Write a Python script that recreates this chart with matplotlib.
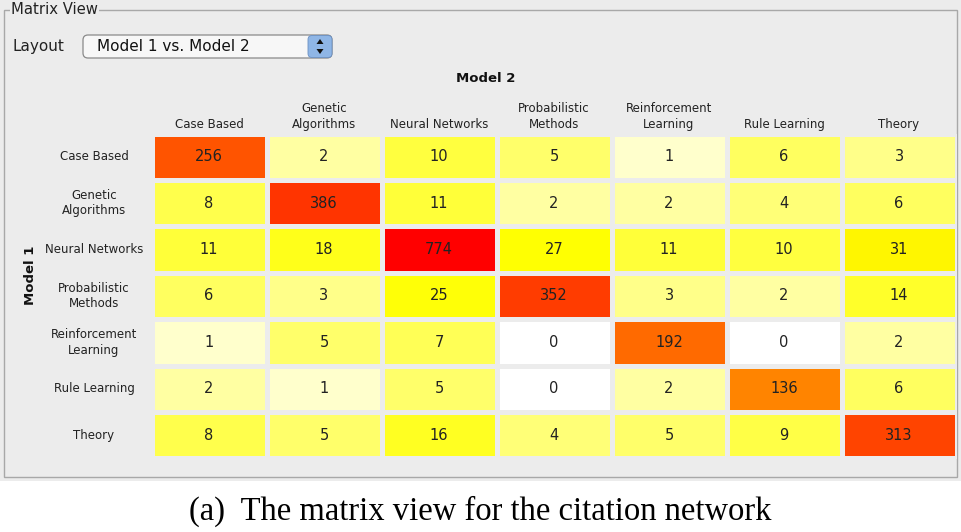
import numpy as np
import matplotlib
matplotlib.use("Agg")
import matplotlib.pyplot as plt
from matplotlib.colors import LinearSegmentedColormap, LogNorm
from matplotlib.patches import Rectangle, FancyBboxPatch, Polygon

# ---- data ----
categories = ["Case Based", "Genetic\nAlgorithms", "Neural Networks", "Probabilistic\nMethods",
              "Reinforcement\nLearning", "Rule Learning", "Theory"]
row_case_based = [256, 2, 10, 5, 1, 6, 3]
row_genetic = [8, 386, 11, 2, 2, 4, 6]
row_neural = [11, 18, 774, 27, 11, 10, 31]
row_probabilistic = [6, 3, 25, 352, 3, 2, 14]
row_reinforcement = [1, 5, 7, 0, 192, 0, 2]
row_rule = [2, 1, 5, 0, 2, 136, 6]
row_theory = [8, 5, 16, 4, 5, 9, 313]
x_title = "Model 2"
y_title = "Model 1"
layout_choice = "Model 1 vs. Model 2"
caption = "(a)  The matrix view for the citation network"

matrix = np.array([row_case_based, row_genetic, row_neural, row_probabilistic,
                   row_reinforcement, row_rule, row_theory], dtype=float)

W, H = 961, 532
fig = plt.figure(figsize=(W / 100, H / 100), dpi=100)
fig.patch.set_facecolor("white")

bg = "#ECECEC"
ov = fig.add_axes([0, 0, 1, 1])
ov.set_xlim(0, W)
ov.set_ylim(H, 0)
ov.axis("off")

# panel background
ov.add_patch(Rectangle((0, 0), W, 481, facecolor=bg, edgecolor="none", zorder=0))
# border
ov.add_patch(Rectangle((4, 10), 953, 467, facecolor="none", edgecolor="#A8A8A8", lw=1.0, zorder=1))
ov.text(11, 10, "Matrix View", fontsize=10.7, family="DejaVu Sans", color="#222222",
        va="center", ha="left", zorder=3,
        bbox=dict(facecolor=bg, edgecolor="none", pad=1))

# Layout combo
ov.text(13, 47, "Layout", fontsize=11, family="DejaVu Sans", color="#222222", va="center", ha="left")
ov.add_patch(FancyBboxPatch((83, 35), 249, 23, boxstyle="round,pad=0,rounding_size=5",
                            facecolor="#F7F7F7", edgecolor="#8A8A8A", lw=0.9, zorder=2))
ov.add_patch(FancyBboxPatch((308, 35.5), 24, 22, boxstyle="round,pad=0,rounding_size=4",
                            facecolor="#8FB6E6", edgecolor="#6A8FC2", lw=0.6, zorder=3))
ov.add_patch(Polygon([[316.5, 44], [323.5, 44], [320, 39]], closed=True, facecolor="#111111", zorder=4))
ov.add_patch(Polygon([[316.5, 49], [323.5, 49], [320, 54]], closed=True, facecolor="#111111", zorder=4))
ov.text(97, 46.5, layout_choice, fontsize=11, family="DejaVu Sans", color="#111111",
        va="center", ha="left", zorder=4)

# heatmap axes
left, right = 151.5, 956.5
top, bottom = 133.5, 458.5
ax = fig.add_axes([left / W, 1 - bottom / H, (right - left) / W, (bottom - top) / H])
cmap = LinearSegmentedColormap.from_list("ylor", ["#FFFFCC", "#FFFF00", "#FF0000"])
cmap.set_bad("white")
masked = np.ma.masked_less_equal(matrix, 0)
n = len(categories)
ax.pcolormesh(np.arange(n + 1), np.arange(n + 1), masked, cmap=cmap,
              norm=LogNorm(vmin=1, vmax=matrix.max()),
              edgecolors=bg, linewidth=3.6)
ax.set_xlim(0, n)
ax.set_ylim(n, 0)
ax.axis("off")
for i in range(n):
    for j in range(n):
        ax.text(j + 0.5, i + 0.5, f"{int(matrix[i, j])}", ha="center", va="center",
                fontsize=10.5, family="DejaVu Sans", color="#222222")

# axis labels via overlay
col_pitch = (right - left) / n
row_pitch = (bottom - top) / n
for k, name in enumerate(categories):
    cx = left + col_pitch * (k + 0.5)
    ov.text(cx, 131, name, ha="center", va="bottom", fontsize=8.5, family="DejaVu Sans",
            color="#222222", linespacing=1.25)
    cy = top + row_pitch * (k + 0.5)
    ov.text(94, cy, name, ha="center", va="center", fontsize=8.5, family="DejaVu Sans",
            color="#222222", linespacing=1.25)

ov.text(486, 78, x_title, ha="center", va="center", fontsize=9.5, fontweight="bold",
        family="DejaVu Sans", color="#111111")
ov.text(30, 275, y_title, ha="center", va="center", fontsize=9.5, fontweight="bold",
        family="DejaVu Sans", color="#111111", rotation=90)

ov.text(480, 511, caption, ha="center", va="center", fontsize=23.5,
        family="Liberation Serif", color="black")

fig.savefig("out.png", dpi=100, facecolor=fig.get_facecolor())
